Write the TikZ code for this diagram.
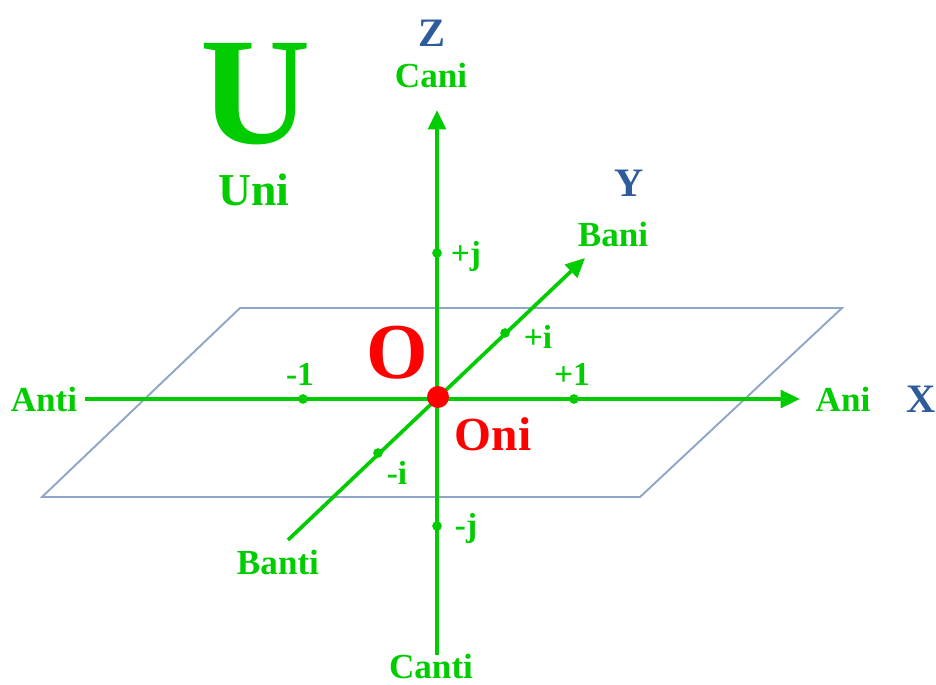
\documentclass[tikz,border=0pt]{standalone}
\usepackage{fontspec}
\setmainfont{Liberation Serif}
\usepackage{tikz}
\usetikzlibrary{arrows.meta,positioning,calc}
\definecolor{axisgreen}{HTML}{00CC00}
\definecolor{axisblue}{HTML}{2E5C9A}
\definecolor{planeline}{HTML}{8FA6C6}
\definecolor{originred}{HTML}{FF0000}

\newcommand{\fs}[1]{\fontsize{#1}{#1}\selectfont}

\begin{document}
\begin{tikzpicture}[x=0.02cm, y=-0.02cm, font=\bfseries,
    axisline/.style={draw=axisgreen, line width=2.1pt},
    axisarrow/.style={axisline, -{Triangle[length=11pt,width=10pt]}},
    tickdot/.style={circle, fill=axisgreen, inner sep=0pt, minimum size=5.5pt},
    ticklabel/.style={text=axisgreen, font=\bfseries\fs{19pt}},
    endlabel/.style={text=axisgreen, font=\bfseries\fs{20pt}},
    axisname/.style={text=axisblue, font=\bfseries\fs{23pt}}]
  \useasboundingbox (0,0) rectangle (936,684);

  % the plane
  \draw[planeline, line width=1.1pt] (240,308) -- (842,308) -- (640,497) -- (42,497) -- cycle;

  % axis ends
  \coordinate (antiend) at (85,399);
  \coordinate (aniend) at (800,399);
  \coordinate (cantiend) at (437,655);
  \coordinate (caniend) at (437,110);
  \coordinate (bantiend) at (288,540);
  \coordinate (baniend) at (585,258);

  \draw[axisarrow] (antiend) -- (aniend);
  \draw[axisarrow] (cantiend) -- (caniend);
  \draw[axisarrow] (bantiend) -- (baniend);

  % unit points
  \node[tickdot] (mone) at (303,399) {};
  \node[tickdot] (pone) at (574,399) {};
  \node[tickdot] (pj) at (437,253) {};
  \node[tickdot] (mj) at (437,526) {};
  \node[tickdot] (pi) at (505,333) {};
  \node[tickdot] (mi) at (378,453) {};
  \node[circle, fill=originred, inner sep=0pt, minimum size=12.5pt] (o) at (438,397) {};

  \node[ticklabel] at (300,374) {-1};
  \node[ticklabel] at (572,374) {+1};
  \node[ticklabel] at (466,256) {+j};
  \node[ticklabel] at (466,528) {-j};
  \node[ticklabel] at (538,337) {+i};
  \node[ticklabel] at (397,473) {-i};

  % axis ends labels
  \node[endlabel] (anti) at (44,399) {Anti};
  \node[endlabel] (ani) at (843,399) {Ani};
  \node[axisname] (xname) at (921,399) {X};
  \node[endlabel] (cani) at (431,75) {Cani};
  \node[axisname] (zname) at (432,33) {Z};
  \node[endlabel] (canti) at (431,666) {Canti};
  \node[endlabel] (banti) at (278,562) {Banti};
  \node[endlabel] (bani) at (613,234) {Bani};
  \node[axisname] (yname) at (629,183) {Y};

  % origin
  \node[text=originred, font=\bfseries\fs{45pt}] (oname) at (397,353) {O};
  \node[text=originred, font=\bfseries\fs{27pt}] (oni) at (493,434) {Oni};

  % the unit
  \node[text=axisgreen, font=\bfseries\fs{87pt}, inner sep=0pt, text depth=0pt, anchor=base] (uname) at (256,143) {U};
  \node[text=axisgreen, font=\bfseries\fs{26pt}, inner sep=1pt, anchor=base] (uni) at (254,205) {Uni};
\end{tikzpicture}
\end{document}
